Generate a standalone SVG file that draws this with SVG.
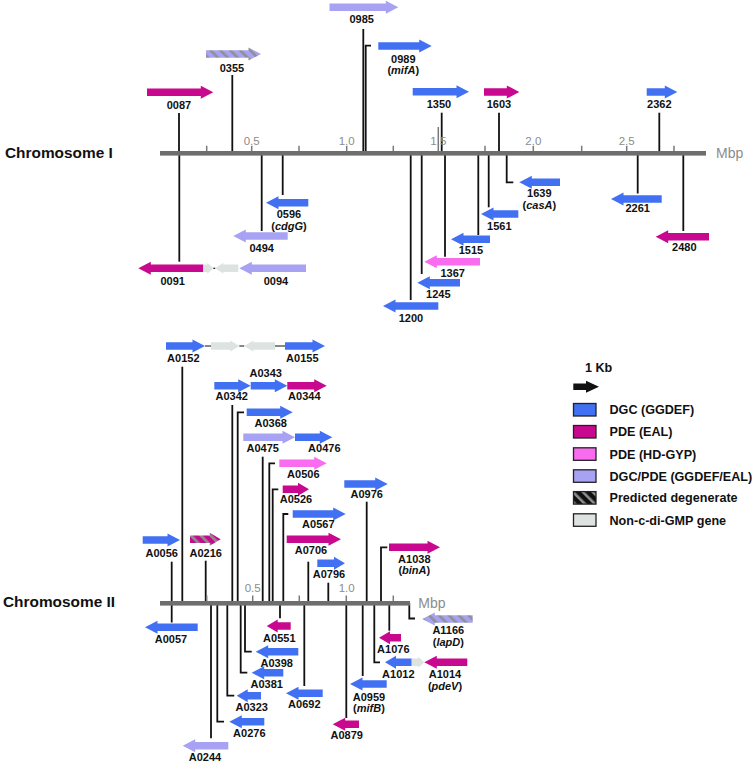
<svg xmlns="http://www.w3.org/2000/svg" width="755" height="763" viewBox="0 0 755 763">
<style>
.ln{stroke:#111;stroke-width:1.8;fill:none}
.dash{stroke:#111;stroke-width:1.2;fill:none}
.tick{stroke:#7a7a7a;stroke-width:1.5}
.axis{fill:#6e6e6e}
.lb{font-family:"Liberation Sans",Arial,sans-serif;font-weight:bold;font-size:11px;text-anchor:middle;fill:#111}
.it{font-style:italic}
.tl{font-family:"Liberation Sans",Arial,sans-serif;font-size:11.5px;text-anchor:middle;fill:#8c8c8c}
.mbp{font-family:"Liberation Sans",Arial,sans-serif;font-size:14px;fill:#8c8c8c}
.chr{font-family:"Liberation Sans",Arial,sans-serif;font-weight:bold;font-size:15.4px;fill:#111}
.lg{font-family:"Liberation Sans",Arial,sans-serif;font-weight:bold;font-size:12.6px;fill:#111}
.box{stroke:#222;stroke-width:1.3}
.dgc{fill:#4270f2}
.eal{fill:#c8088e}
.hd{fill:#f96cf0}
.gp{fill:#a7a2f4}
.ng{fill:#dde3e0}
</style>
<defs>
<pattern id="stLav" patternUnits="userSpaceOnUse" width="7" height="7" patternTransform="rotate(-45)">
<rect width="7" height="7" fill="#a7a2f4"/><rect width="2.6" height="7" fill="#8f8f96"/>
</pattern>
<pattern id="stMag" patternUnits="userSpaceOnUse" width="7" height="7" patternTransform="rotate(-45)">
<rect width="7" height="7" fill="#c8088e"/><rect width="2.6" height="7" fill="#8f8f8f"/>
</pattern>
<pattern id="stBlk" patternUnits="userSpaceOnUse" width="7" height="7" patternTransform="rotate(-45)">
<rect width="7" height="7" fill="#111"/><rect width="2.6" height="7" fill="#8f8f8f"/>
</pattern>
</defs>

<text class="chr" x="5" y="158">Chromosome I</text>
<text class="chr" x="3" y="606.7">Chromosome II</text>

<g id="connectors">
<path class="ln" d="M179 113V153"/>
<path class="ln" d="M232.3 75V153"/>
<path class="ln" d="M363.3 29V153"/>
<path class="ln" d="M371 45.7H365.7V153"/>
<path class="ln" d="M441.7 112.7V153"/>
<path class="ln" d="M499 112.7V153"/>
<path class="ln" d="M659.3 112.7V153"/>
<path class="ln" d="M179.3 153V261.7"/>
<path class="ln" d="M261.7 153V231"/>
<path class="ln" d="M282.7 153V195"/>
<path class="ln" d="M410.7 153V300"/>
<path class="ln" d="M421.7 153V274"/>
<path class="ln" d="M445 153V256.7"/>
<path class="ln" d="M478.3 153V235"/>
<path class="ln" d="M488.7 153V207.3"/>
<path class="ln" d="M506.7 153V182.3H513.3"/>
<path class="ln" d="M637.7 153V193.5"/>
<path class="ln" d="M683.3 153V231"/>
<path class="dash" d="M213.3 268.3H215.3"/>
<path class="dash" d="M205 346H211M239.3 346H244.3M275 346H285"/>
<path class="ln" d="M182.3 366.7V603"/>
<path class="ln" d="M232.3 405V603"/>
<path class="ln" d="M244 412.3H237.7V603"/>
<path class="ln" d="M262.7 456.7V603"/>
<path class="ln" d="M275 463.3H269.3V603"/>
<path class="ln" d="M278.3 489.3H272.7V603"/>
<path class="ln" d="M288.3 514H283.3V603"/>
<path class="ln" d="M308.3 561.7V603"/>
<path class="ln" d="M328.3 582.7V603"/>
<path class="ln" d="M366.7 501.7V603"/>
<path class="ln" d="M387.3 547.3H381V603"/>
<path class="ln" d="M171.7 561.7V622.5"/>
<path class="ln" d="M205.7 560.7V603"/>
<path class="ln" d="M280 603V618.3"/>
<path class="ln" d="M245 603V651.7H251.7"/>
<path class="ln" d="M240.7 603V672.7H247.3"/>
<path class="ln" d="M227.3 603V695.7H234.3"/>
<path class="ln" d="M304.3 603V686"/>
<path class="ln" d="M217.3 603V721.7H224"/>
<path class="ln" d="M211 603V738.3"/>
<path class="ln" d="M346.3 603V718"/>
<path class="ln" d="M362.7 603V676"/>
<path class="ln" d="M374.3 603V662.3H380"/>
<path class="ln" d="M389.3 603V630.7"/>
<path class="ln" d="M409.3 603V618.5H415"/>
</g>

<g id="axis-chr1">
<path class="tick" d="M206.7 145.7V151M251.7 145.7V151M299 145.7V151M346.7 145.7V151M393.3 145.7V151M438.3 127V151M485 145.7V151M533.3 145.7V151M581.7 145.7V151M626.7 145.7V151M674 145.7V151"/>
<rect class="axis" x="160" y="151" width="546" height="4.6"/>
<text class="tl" x="251.7" y="144.5">0.5</text>
<text class="tl" x="346.7" y="144.5">1.0</text>
<text class="tl" x="438.3" y="144.5">1.5</text>
<text class="tl" x="533.3" y="144.5">2.0</text>
<text class="tl" x="626.7" y="144.5">2.5</text>
<text class="mbp" x="716" y="157.8">Mbp</text>
</g>

<g id="axis-chr2">
<path class="tick" d="M206.7 595.5V601M252.7 595.5V601M299.3 595.5V601M346.3 595.5V601M393.3 595.5V601"/>
<rect class="axis" x="160" y="601" width="250" height="4.6"/>
<text class="tl" x="252.7" y="592">0.5</text>
<text class="tl" x="346.7" y="592">1.0</text>
<text class="mbp" x="418.3" y="607.5">Mbp</text>
</g>

<g id="g0087"><path class="eal" d="M147 88.5H200.8V85.8L213.3 92.3L200.8 98.8V96.1H147Z"/><text class="lb" x="179" y="108.8">0087</text></g>
<g id="g0355"><path fill="url(#stLav)" d="M206 50.2H248.5V47.5L261 54L248.5 60.5V57.8H206Z"/><text class="lb" x="232" y="71.7">0355</text></g>
<g id="g0985"><path class="gp" d="M329.5 3.5H385.8V0.8L398.3 7.3L385.8 13.8V11.1H329.5Z"/><text class="lb" x="361.7" y="23.3">0985</text></g>
<g id="g0989"><path class="dgc" d="M378.3 42.2H419.2V39.5L431.7 46L419.2 52.5V49.8H378.3Z"/><text class="lb" x="403.3" y="62.5">0989</text><text class="lb" x="403.3" y="73.5">(<tspan class="it">mifA</tspan>)</text></g>
<g id="g1350"><path class="dgc" d="M412.7 87.9H456.5V85.2L469 91.7L456.5 98.2V95.5H412.7Z"/><text class="lb" x="439" y="108.3">1350</text></g>
<g id="g1603"><path class="eal" d="M484 88.2H506.8V85.5L519.3 92L506.8 98.5V95.8H484Z"/><text class="lb" x="499" y="108.3">1603</text></g>
<g id="g2362"><path class="dgc" d="M646.7 88.2H664.8V85.5L677.3 92L664.8 98.5V95.8H646.7Z"/><text class="lb" x="659.3" y="108.3">2362</text></g>

<g id="g0091"><path class="eal" d="M203.3 264.5H150.8V261.8L138.3 268.3L150.8 274.8V272.1H203.3Z"/><text class="lb" x="172.7" y="285">0091</text></g>
<g id="g0092"><path class="ng" d="M203.3 264.5H207.3V262.8L213.3 268.3L207.3 273.8V272.1H203.3Z"/></g>
<g id="g0093"><path class="ng" d="M238.3 264.5H223.3V262.8L215.3 268.3L223.3 273.8V272.1H238.3Z"/></g>
<g id="g0094"><path class="gp" d="M306 264.5H251.8V261.8L239.3 268.3L251.8 274.8V272.1H306Z"/><text class="lb" x="276" y="285">0094</text></g>
<g id="g0494"><path class="gp" d="M287.7 232.2H245.8V229.5L233.3 236L245.8 242.5V239.8H287.7Z"/><text class="lb" x="261.7" y="251.7">0494</text></g>
<g id="g0596"><path class="dgc" d="M308.3 198.9H278.5V196.2L266 202.7L278.5 209.2V206.5H308.3Z"/><text class="lb" x="289" y="218.3">0596</text><text class="lb" x="289" y="230.3">(<tspan class="it">cdgG</tspan>)</text></g>
<g id="g1639"><path class="dgc" d="M560 178.5H531.8V175.8L519.3 182.3L531.8 188.8V186.1H560Z"/><text class="lb" x="539.3" y="197.3">1639</text><text class="lb" x="539.3" y="209.3">(<tspan class="it">casA</tspan>)</text></g>
<g id="g1561"><path class="dgc" d="M518.3 210.2H493.5V207.5L481 214L493.5 220.5V217.8H518.3Z"/><text class="lb" x="499.3" y="230">1561</text></g>
<g id="g1515"><path class="dgc" d="M490 235.5H463.5V232.8L451 239.3L463.5 245.8V243.1H490Z"/><text class="lb" x="471" y="254.3">1515</text></g>
<g id="g1367"><path class="hd" d="M480 257.9H436.8V255.2L424.3 261.7L436.8 268.2V265.5H480Z"/><text class="lb" x="452.7" y="277.3">1367</text></g>
<g id="g1245"><path class="dgc" d="M460 278.9H429.8V276.2L417.3 282.7L429.8 289.2V286.5H460Z"/><text class="lb" x="438.3" y="297.7">1245</text></g>
<g id="g1200"><path class="dgc" d="M438.3 302.2H395.5V299.5L383 306L395.5 312.5V309.8H438.3Z"/><text class="lb" x="411" y="322">1200</text></g>
<g id="g2261"><path class="dgc" d="M661.7 195.2H623.5V192.5L611 199L623.5 205.5V202.8H661.7Z"/><text class="lb" x="637.7" y="211.7">2261</text></g>
<g id="g2480"><path class="eal" d="M709 232.9H668.2V230.2L655.7 236.7L668.2 243.2V240.5H709Z"/><text class="lb" x="684.3" y="250.7">2480</text></g>

<g id="gA0152"><path class="dgc" d="M166 342.2H192.5V339.5L205 346L192.5 352.5V349.8H166Z"/><text class="lb" x="183.3" y="361.7">A0152</text></g>
<g id="gA0153"><path class="ng" d="M211 342.2H230.3V340.5L239.3 346L230.3 351.5V349.8H211Z"/></g>
<g id="gA0154"><path class="ng" d="M275 342.2H253.3V340.5L244.3 346L253.3 351.5V349.8H275Z"/></g>
<g id="gA0155"><path class="dgc" d="M285 342.2H312.5V339.5L325 346L312.5 352.5V349.8H285Z"/><text class="lb" x="302.3" y="361.7">A0155</text></g>
<g id="gA0342"><path class="dgc" d="M214.3 381.9H238.2V379.2L250.7 385.7L238.2 392.2V389.5H214.3Z"/><text class="lb" x="231.7" y="400">A0342</text></g>
<g id="gA0343"><path class="dgc" d="M250.7 381.9H274.8V379.2L287.3 385.7L274.8 392.2V389.5H250.7Z"/><text class="lb" x="265.7" y="376.7">A0343</text></g>
<g id="gA0344"><path class="eal" d="M287.3 381.9H314.2V379.2L326.7 385.7L314.2 392.2V389.5H287.3Z"/><text class="lb" x="304.3" y="400">A0344</text></g>
<g id="gA0368"><path class="dgc" d="M246.7 408.5H280.2V405.8L292.7 412.3L280.2 418.8V416.1H246.7Z"/><text class="lb" x="270.7" y="426.7">A0368</text></g>
<g id="gA0475"><path class="gp" d="M243.3 433.5H282.5V430.8L295 437.3L282.5 443.8V441.1H243.3Z"/><text class="lb" x="262.7" y="452.3">A0475</text></g>
<g id="gA0476"><path class="dgc" d="M295 433.5H319.8V430.8L332.3 437.3L319.8 443.8V441.1H295Z"/><text class="lb" x="324.3" y="452.3">A0476</text></g>
<g id="gA0506"><path class="hd" d="M279.3 459.5H314.2V456.8L326.7 463.3L314.2 469.8V467.1H279.3Z"/><text class="lb" x="303.3" y="478.3">A0506</text></g>
<g id="gA0526"><path class="eal" d="M282.7 485.5H298V482.8L309 489.3L298 495.8V493.1H282.7Z"/><text class="lb" x="296" y="503.3">A0526</text></g>
<g id="gA0567"><path class="dgc" d="M292.7 510.2H333.2V507.5L345.7 514L333.2 520.5V517.8H292.7Z"/><text class="lb" x="318.3" y="528.3">A0567</text></g>
<g id="gA0706"><path class="eal" d="M286.7 535.5H328.5V532.8L341 539.3L328.5 545.8V543.1H286.7Z"/><text class="lb" x="311" y="554">A0706</text></g>
<g id="gA0796"><path class="dgc" d="M317.3 559.5H334V556.8L345 563.3L334 569.8V567.1H317.3Z"/><text class="lb" x="329" y="578.3">A0796</text></g>
<g id="gA0976"><path class="dgc" d="M344.3 480.2H375.2V477.5L387.7 484L375.2 490.5V487.8H344.3Z"/><text class="lb" x="366.7" y="498.3">A0976</text></g>
<g id="gA1038"><path class="eal" d="M389 543.5H427.5V540.8L440 547.3L427.5 553.8V551.1H389Z"/><text class="lb" x="414.3" y="562.7">A1038</text><text class="lb" x="414.3" y="573.7">(<tspan class="it">binA</tspan>)</text></g>
<g id="gA0056"><path class="dgc" d="M142.7 536.2H167.5V533.5L180 540L167.5 546.5V543.8H142.7Z"/><text class="lb" x="161.7" y="556.7">A0056</text></g>
<g id="gA0216"><path fill="url(#stMag)" d="M190 535.5H209.7V532.8L220.7 539.3L209.7 545.8V543.1H190Z"/><text class="lb" x="205.7" y="556.7">A0216</text></g>

<g id="gA0057"><path class="dgc" d="M197.7 623.5H157.5V620.8L145 627.3L157.5 633.8V631.1H197.7Z"/><text class="lb" x="171" y="643.3">A0057</text></g>
<g id="gA0551"><path class="eal" d="M290.7 622.2H277.7V619.5L266.7 626L277.7 632.5V629.8H290.7Z"/><text class="lb" x="279.3" y="641.7">A0551</text></g>
<g id="gA0398"><path class="dgc" d="M298.3 647.9H268.2V645.2L255.7 651.7L268.2 658.2V655.5H298.3Z"/><text class="lb" x="276.7" y="666.7">A0398</text></g>
<g id="gA0381"><path class="dgc" d="M283.3 668.9H264.2V666.2L251.7 672.7L264.2 679.2V676.5H283.3Z"/><text class="lb" x="266.7" y="688.3">A0381</text></g>
<g id="gA0323"><path class="dgc" d="M261 691.9H247.7V689.2L236.7 695.7L247.7 702.2V699.5H261Z"/><text class="lb" x="251.7" y="710.7">A0323</text></g>
<g id="gA0692"><path class="dgc" d="M322.7 689.5H298.5V686.8L286 693.3L298.5 699.8V697.1H322.7Z"/><text class="lb" x="304.3" y="708.3">A0692</text></g>
<g id="gA0276"><path class="dgc" d="M264.3 717.9H241.8V715.2L229.3 721.7L241.8 728.2V725.5H264.3Z"/><text class="lb" x="249.3" y="736.7">A0276</text></g>
<g id="gA0244"><path class="gp" d="M228.3 741.9H195.2V739.2L182.7 745.7L195.2 752.2V749.5H228.3Z"/><text class="lb" x="205" y="761">A0244</text></g>
<g id="gA0879"><path class="eal" d="M359 720.5H345.2V717.8L332.7 724.3L345.2 730.8V728.1H359Z"/><text class="lb" x="346.7" y="739.3">A0879</text></g>
<g id="gA0959"><path class="dgc" d="M386.7 680.2H362.5V677.5L350 684L362.5 690.5V687.8H386.7Z"/><text class="lb" x="369" y="700.7">A0959</text><text class="lb" x="369" y="711.5">(<tspan class="it">mifB</tspan>)</text></g>
<g id="gA1012"><path class="dgc" d="M411.7 658.5H396V655.8L385 662.3L396 668.8V666.1H411.7Z"/><text class="lb" x="398.3" y="677.7">A1012</text></g>
<g id="gA1013"><path class="ng" d="M411.7 658.5H418.3V656.8L424.3 662.3L418.3 667.8V666.1H411.7Z"/></g>
<g id="gA1014"><path class="eal" d="M467.3 658.5H436.8V655.8L424.3 662.3L436.8 668.8V666.1H467.3Z"/><text class="lb" x="445" y="677.7">A1014</text><text class="lb" x="445" y="689.5">(<tspan class="it">pdeV</tspan>)</text></g>
<g id="gA1076"><path class="eal" d="M401 633.9H390V631.2L379 637.7L390 644.2V641.5H401Z"/><text class="lb" x="393.3" y="652.7">A1076</text></g>
<g id="gA1166"><path fill="url(#stLav)" d="M472.7 615.2H434.8V612.5L422.3 619L434.8 625.5V622.8H472.7Z"/><text class="lb" x="448.3" y="634.3">A1166</text><text class="lb" x="448.3" y="645.7">(<tspan class="it">lapD</tspan>)</text></g>

<g id="legend">
<text class="lg" x="585" y="372">1 Kb</text>
<path fill="#111" d="M573.3 383.4H586V380.7L599 386.7L586 392.7V390H573.3Z"/>
<rect class="box dgc" x="573.5" y="403.5" width="22.5" height="12.5"/>
<text class="lg" x="609.5" y="414.2">DGC (GGDEF)</text>
<rect class="box eal" x="573.5" y="425.5" width="22.5" height="12.5"/>
<text class="lg" x="609.5" y="436.2">PDE (EAL)</text>
<rect class="box hd" x="573.5" y="447.8" width="22.5" height="12.5"/>
<text class="lg" x="609.5" y="458.5">PDE (HD-GYP)</text>
<rect class="box gp" x="573.5" y="469.8" width="22.5" height="12.5"/>
<text class="lg" x="609.5" y="480.5">DGC/PDE (GGDEF/EAL)</text>
<rect class="box" fill="url(#stBlk)" x="573.5" y="491.6" width="22.5" height="12.5"/>
<text class="lg" x="609.5" y="502.3">Predicted degenerate</text>
<rect class="box ng" x="573.5" y="513.8" width="22.5" height="12.5"/>
<text class="lg" x="609.5" y="524.5">Non-c-di-GMP gene</text>
</g>
</svg>
